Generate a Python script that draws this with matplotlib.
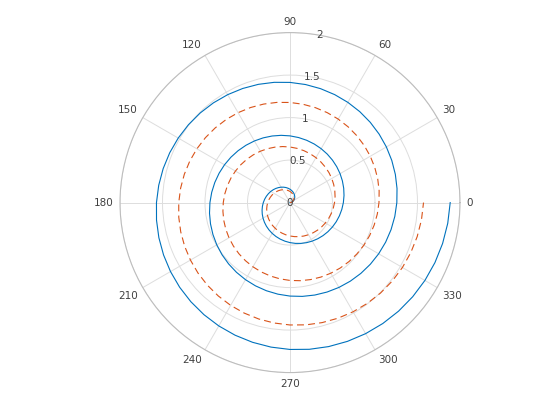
import numpy as np
import matplotlib
matplotlib.use("Agg")
import matplotlib.pyplot as plt
from matplotlib.transforms import offset_copy

# spiral samples, one per quarter turn (3 turns)
theta_deg = [0, 90, 180, 270, 360, 450, 540, 630, 720, 810, 900, 990, 1080]
rho_solid = [0, 0.157, 0.314, 0.471, 0.628, 0.785, 0.942, 1.100, 1.257,
             1.414, 1.571, 1.728, 1.885]
rho_dashed = [0, 0.131, 0.262, 0.393, 0.524, 0.654, 0.785, 0.916, 1.047,
              1.178, 1.309, 1.440, 1.571]

angle_ticks = [0, 30, 60, 90, 120, 150, 180, 210, 240, 270, 300, 330]
r_ticks = [0, 0.5, 1, 1.5, 2]
r_labels = ["0", "0.5", "1", "1.5", "2"]

plt.rcParams['font.family'] = ['DejaVu Sans']
plt.rcParams['lines.scale_dashes'] = False

fig = plt.figure(figsize=(5.6, 4.2), dpi=100)
ax = fig.add_axes([0.2143, 0.1129, 0.6071, 0.8095], projection='polar')

th = np.deg2rad(theta_deg)
l1, = ax.plot(th, rho_solid, color='#0072BD', lw=0.8)
l2, = ax.plot(th, rho_dashed, color='#D95319', lw=0.8, linestyle=(0, (5, 3)))
# let the polar transform draw each segment as a true spiral piece
for ln in (l1, l2):
    ln.get_path()._interpolation_steps = 12

ax.set_ylim(0, 2)
ax.set_thetagrids(angle_ticks, [''] * len(angle_ticks))
ax.set_rticks(r_ticks)
ax.set_yticklabels([])

# angle labels, placed just outside the circle like matlab does
gap = 6
for a in angle_ticks:
    c, s = np.cos(np.deg2rad(a)), np.sin(np.deg2rad(a))
    ha = 'left' if c > 0.01 else ('right' if c < -0.01 else 'center')
    va = 'bottom' if s > 0.01 else ('top' if s < -0.01 else 'center')
    tr = offset_copy(ax.transData, fig=fig, x=gap * c, y=gap * s, units='dots')
    ax.text(np.deg2rad(a), 2, str(a), transform=tr, ha=ha, va=va,
            fontsize=7.5, color='#404040', clip_on=False)

for r, s in zip(r_ticks, r_labels):
    ax.text(np.deg2rad(80), r, s, ha='center', va='center',
            fontsize=7.5, color='#404040')

ax.grid(True, color='#dddddd', lw=0.7)
ax.spines['polar'].set_color('#bdbdbd')
ax.spines['polar'].set_linewidth(0.8)
ax.tick_params(axis='x', length=2, direction='out', color='#bdbdbd')
ax.tick_params(axis='y', length=0)

fig.savefig('out.png', dpi=100)
